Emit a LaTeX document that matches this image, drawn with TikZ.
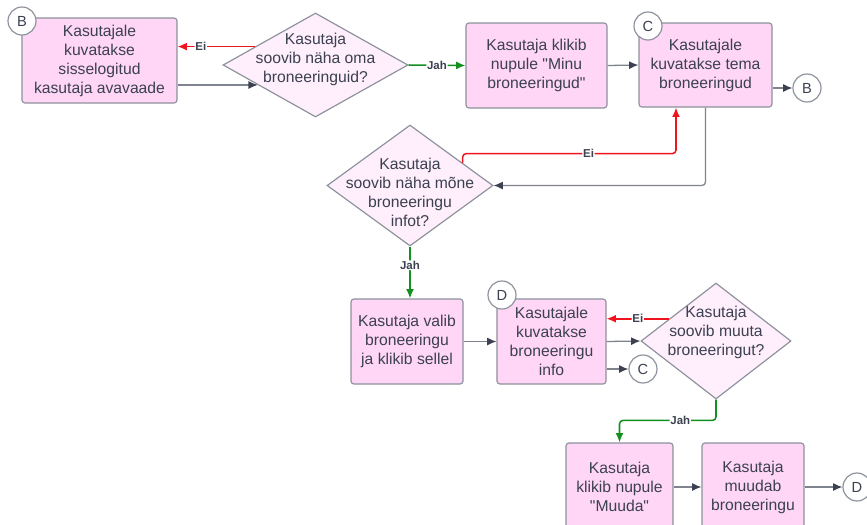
\documentclass[tikz,border=0pt]{standalone}
\usepackage{fontspec}
\setmainfont{Liberation Sans}
\newfontfamily\plainfont{Liberation Sans}
\usetikzlibrary{shapes.geometric, arrows.meta, calc}

\definecolor{boxfill}{HTML}{FFD6F5}
\definecolor{diafill}{HTML}{FFEEFB}
\definecolor{edgegrey}{HTML}{8C919B}
\definecolor{txtgrey}{HTML}{3B4150}
\definecolor{linegrey}{HTML}{7E838D}
\definecolor{eired}{HTML}{F0141E}
\definecolor{jahgreen}{HTML}{12901E}

\newcommand{\dq}{{\plainfont\symbol{34}}}

\tikzset{
  proc/.style={shape=rectangle, draw=edgegrey, fill=boxfill, rounded corners=2.5pt, line width=1pt,
    align=center, text=txtgrey, font=\fontsize{13.4}{16.2}\selectfont},
  decision/.style={shape=diamond, draw=edgegrey, fill=diafill, inner sep=0pt, line width=1pt},
  dtext/.style={align=center, text=txtgrey, font=\fontsize{13.4}{16.2}\selectfont},
  jump/.style={shape=circle, draw=edgegrey, fill=white, minimum size=0.84cm, inner sep=0pt, line width=1pt,
    text=txtgrey, font=\fontsize{12.5}{13}\selectfont},
  flow/.style={draw=linegrey, line width=1.1pt, rounded corners=3pt, -{Latex[length=2.8mm,width=2.4mm,color=txtgrey]}},
  jahflow/.style={flow, draw=jahgreen, line width=1.3pt, -{Latex[length=2.8mm,width=2.4mm,color=jahgreen]}},
  eiflow/.style={flow, draw=eired, line width=1.3pt, -{Latex[length=2.8mm,width=2.4mm,color=eired]}},
  tag/.style={fill=white, inner sep=0.6pt, text=txtgrey, font=\bfseries\fontsize{9.8}{10}\selectfont}
}

\begin{document}
\begin{tikzpicture}[x=0.03cm, y=-0.03cm]
    \useasboundingbox (0, 0) rectangle (867, 524);
    \clip (0, 0) rectangle (867, 524);

    % boxes
    \node[proc, minimum width=4.65cm, minimum height=2.55cm] (avavaade) at (99.5, 60.5) {Kasutajale\\ kuvatakse\\ sisselogitud\\ kasutaja avavaade};
    \node[proc, minimum width=4.23cm, minimum height=2.55cm] (minu) at (536.5, 65.5) {Kasutaja klikib\\ nupule \dq Minu\\ broneeringud\dq};
    \node[proc, minimum width=3.99cm, minimum height=2.52cm] (nimekiri) at (705.5, 65) {Kasutajale\\ kuvatakse tema\\ broneeringud};
    \node[proc, minimum width=3.36cm, minimum height=2.55cm] (valib) at (407, 341.5) {Kasutaja valib\\ broneeringu\\ ja klikib sellel};
    \node[proc, minimum width=3.27cm, minimum height=2.55cm] (info) at (551.5, 341.5) {Kasutajale\\ kuvatakse\\ broneeringu\\ info};
    \node[proc, minimum width=3.21cm, minimum height=2.64cm] (muuda) at (619.5, 487) {Kasutaja\\ klikib nupule\\ \dq Muuda\dq};
    \node[proc, minimum width=3.06cm, minimum height=2.64cm] (muudab) at (753, 487) {Kasutaja\\ muudab\\ broneeringu};

    % decisions
    \node[decision, minimum width=5.55cm, minimum height=3.12cm] (q1) at (315.5, 65) {};
    \node[dtext] (q1t) at (315.5, 59) {Kasutaja\\ soovib näha oma\\ broneeringuid?};
    \node[decision, minimum width=4.98cm, minimum height=3.63cm] (q2) at (410, 185.5) {};
    \node[dtext] (q2t) at (410, 192) {Kasutaja\\ soovib näha mõne\\ broneeringu\\ infot?};
    \node[decision, minimum width=4.5cm, minimum height=3.48cm] (q3) at (716, 341) {};
    \node[dtext] (q3t) at (716, 332) {Kasutaja\\ soovib muuta\\ broneeringut?};

    % jump circles
    \node[jump] (b1) at (22, 21) {B};
    \node[jump] (c1) at (648, 26) {C};
    \node[jump] (b2) at (807, 88) {B};
    \node[jump] (d1) at (502, 295) {D};
    \node[jump] (c2) at (643, 369) {C};
    \node[jump] (d2) at (857, 487) {D};

    % connectors
    \coordinate (q1in) at ($(q1.west)!0.38!(q1.south)$);
    \coordinate (q1ei) at ($(q1.west)!0.35!(q1.north)$);
    \draw[flow] (avavaade.east |- q1in) to (q1in);
    \draw[eiflow] (q1ei) to node[tag, pos=0.7]{Ei} (avavaade.east |- q1ei);
    \draw[jahflow] (q1.east) to node[tag]{Jah} (minu.west);
    \draw[flow] (minu.east) to (nimekiri.west);
    \draw[flow] (nimekiri.east |- b2) to (b2);

    \coordinate (q2ei) at ($(q2.east)!0.37!(q2.north)$);
    \coordinate (q2knee) at ($(nimekiri.south)+(-29.5, 46)$);
    \draw[eiflow] (q2ei) -- (q2ei |- q2knee) -- node[tag, pos=0.59]{Ei} (q2knee) -- (q2knee |- nimekiri.south);
    \draw[flow] (nimekiri.south) |- (q2.east);
    \draw[jahflow] (q2.south) to node[tag, pos=0.36]{Jah} (q2.south |- valib.north);

    \draw[flow] (valib.east) to (info.west);
    \draw[flow] (info.east) to (q3.west);
    \draw[flow] (info.east |- c2) to (c2);
    \coordinate (q3ei) at ($(q3.west)!0.38!(q3.north)$);
    \draw[eiflow] (q3ei) to node[tag]{Ei} (info.east |- q3ei);
    \coordinate (q3knee) at ($(muuda.north)+(0, -22)$);
    \draw[jahflow] (q3.south) -- (q3.south |- q3knee) -- node[tag, pos=0.37]{Jah} (q3knee) -- (muuda.north);

    \draw[flow] (muuda.east) to (muudab.west);
    \draw[flow] (muudab.east) to (d2);
\end{tikzpicture}
\end{document}
